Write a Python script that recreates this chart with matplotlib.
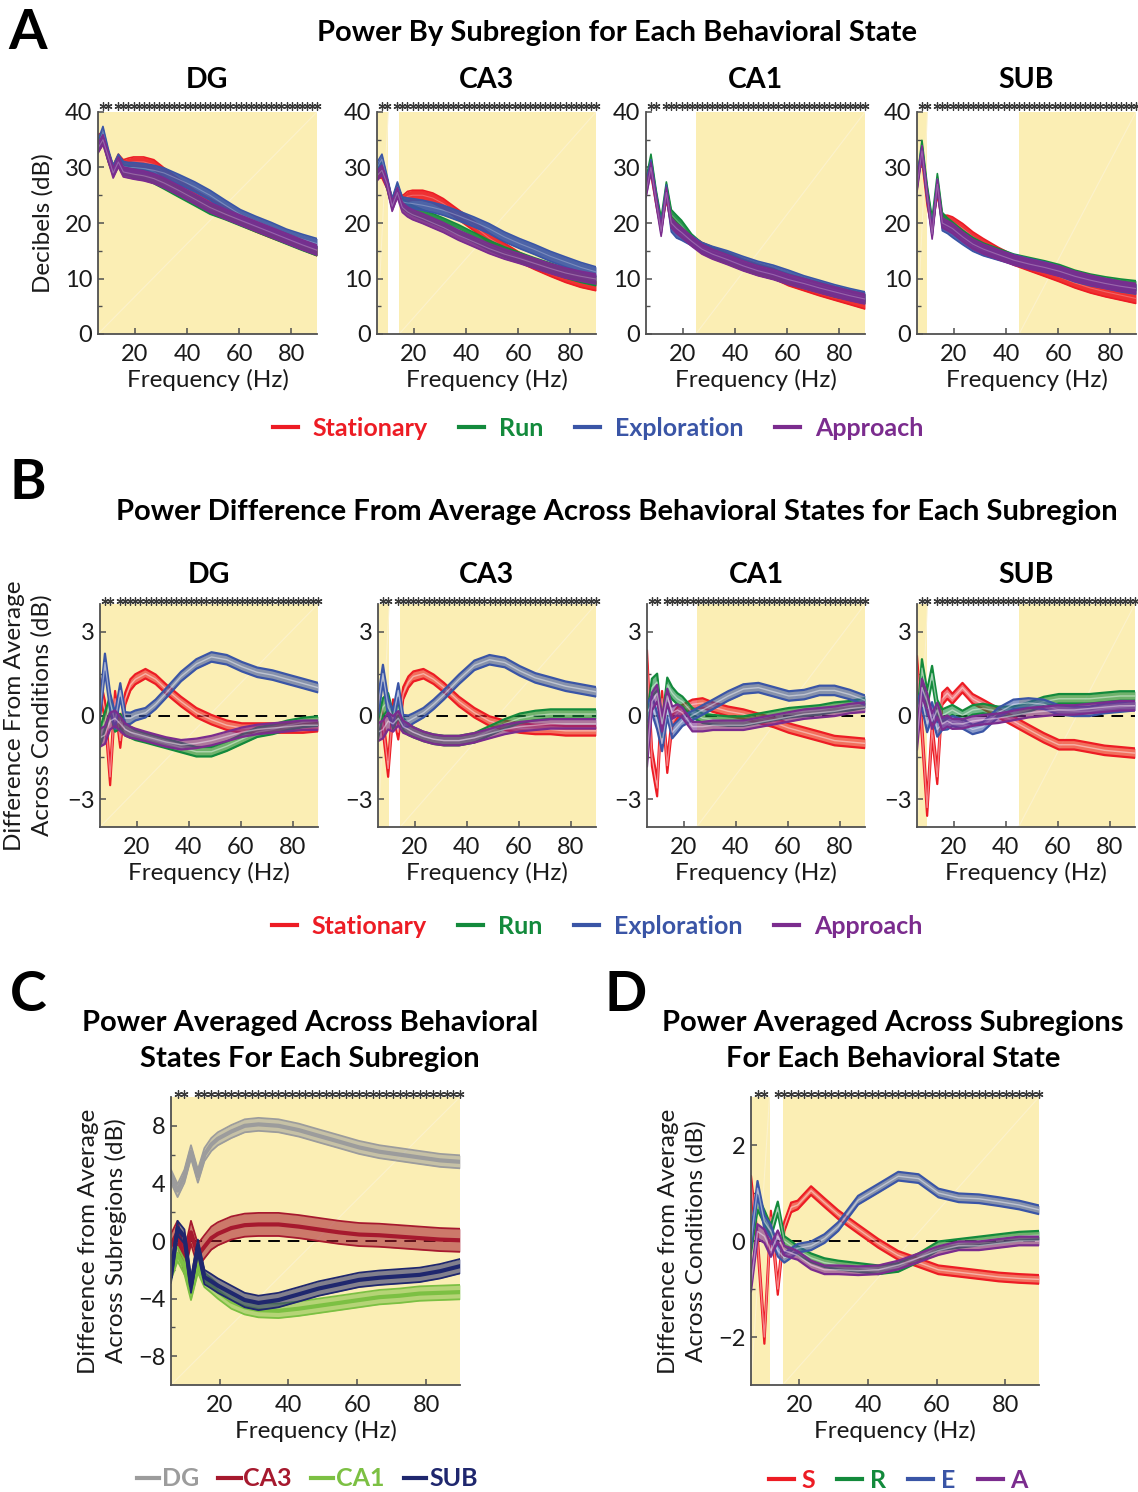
import numpy as np
import matplotlib
matplotlib.use('Agg')
import matplotlib.pyplot as plt
import matplotlib.transforms as mtransforms
from matplotlib.lines import Line2D

plt.rcParams['font.family'] = ['Lato', 'DejaVu Sans']

W, H = 1138, 1492

# frequency knots (Hz)
freq = [5.9, 7.8, 9.8, 11.7, 13.7, 15.6, 17.6, 19.5, 23.4, 27.3, 31.3,
        37.1, 43.0, 48.8, 54.7, 60.5, 66.4, 72.3, 78.1, 84.0, 89.8]

states = ['Stationary', 'Run', 'Exploration', 'Approach']
states_short = ['S', 'R', 'E', 'A']
regions = ['DG', 'CA3', 'CA1', 'SUB']

# significant frequency bins (bin width 1.953 Hz)
BIN_HZ = 1.953
star_bins = [4, 5] + list(range(7, 47))

# yellow shaded (significant) ranges, Hz
sig_ranges = {
    'DG': [(5.9, 89.8)],
    'CA3': [(5.9, 10.2), (14.4, 89.8)],
    'CA1': [(25.0, 89.8)],
    'SUB': [(5.9, 9.9), (45.0, 89.8)],
}
sig_c = [(5.9, 89.8)]
sig_d = [(5.9, 11.3), (15.1, 89.8)]

# ---- A: power (dB), order S, R, E, A
pow_dg = [
    [35, 35.5, 32, 29.5, 31.5, 30.5, 30.8, 31, 31, 30.5, 29, 27, 25, 23.5, 22, 20.5, 19.3, 18.2, 17.2, 16.1, 15],
    [34, 35.5, 32, 29.5, 31, 29.5, 29.4, 29, 28.8, 28, 27, 25.5, 24, 22.5, 21.5, 20.4, 19.3, 18.2, 17.1, 16, 15],
    [34, 36.5, 32.5, 29.5, 31.5, 30.2, 30, 30, 29.8, 29.5, 29, 27.8, 26.5, 25, 23.2, 21.5, 20.3, 19.2, 18, 17.1, 16.3],
    [33.5, 35, 32, 29, 31, 29.2, 29, 28.8, 28.5, 28, 27.2, 25.8, 24.3, 22.8, 21.6, 20.5, 19.4, 18.3, 17.2, 16.1, 15.1],
]
pow_ca3 = [
    [29, 29, 27, 23.5, 25.5, 24, 24.8, 25, 25, 24.5, 23.5, 21.5, 19.5, 17.3, 15.5, 13.8, 12.5, 11.3, 10.2, 9.3, 8.7],
    [29.5, 30, 27, 23.5, 26, 23.5, 22.8, 22.3, 21.5, 20.8, 20, 18.8, 17.4, 16, 14.8, 13.8, 12.8, 11.9, 11, 10.2, 9.6],
    [30, 31.5, 27.5, 23.5, 26.5, 23.8, 23.6, 23.5, 23.2, 22.8, 22.3, 21.3, 20.2, 19, 17.5, 16.3, 15.2, 14, 13, 12, 11.2],
    [28.5, 29.5, 27, 23, 25.5, 22.8, 22, 21.5, 20.8, 20, 19.2, 17.8, 16.6, 15.4, 14.4, 13.6, 12.7, 11.8, 11, 10.4, 9.9],
]
pow_ca1 = [
    [27.5, 29.5, 24, 19.5, 25, 20.5, 19.3, 18.3, 16.8, 15.6, 14.8, 13.8, 12.6, 11.7, 10.9, 9.6, 8.7, 7.8, 7, 6.2, 5.4],
    [27, 31.5, 25, 20, 26.5, 21.5, 20.5, 19.6, 17.1, 15.5, 14.6, 13.6, 12.4, 11.5, 10.8, 9.9, 9.1, 8.4, 7.6, 7, 6.4],
    [26.5, 30.5, 24.5, 19, 26, 19.3, 18.2, 17.8, 16.8, 15.6, 14.9, 14.1, 13.1, 12.2, 11.5, 10.6, 9.6, 8.8, 8.0, 7.3, 6.7],
    [25.5, 30, 24, 18.5, 25.5, 20, 19, 18.3, 16.7, 15.3, 14.4, 13.4, 12.3, 11.4, 10.7, 9.8, 9.1, 8.3, 7.6, 6.9, 6.3],
]
pow_sub = [
    [28.5, 32, 24, 19.5, 26, 20.5, 20.5, 20.2, 19, 17.5, 16.3, 14.7, 13.3, 12.3, 11.3, 10.3, 9.2, 8.3, 7.6, 7, 6.4],
    [27, 34, 26, 20, 28, 21, 20, 19.3, 17.8, 16.5, 15.5, 14.5, 13.5, 12.9, 12.3, 11.6, 10.6, 9.9, 9.4, 9.0, 8.7],
    [27.5, 33, 25, 18.5, 27, 19.5, 19, 18.3, 17, 15.8, 15, 14.2, 13.4, 12.7, 12.1, 11.3, 10.3, 9.6, 9.1, 8.5, 8.1],
    [26.5, 33, 25, 18, 27, 20, 19.5, 19, 17.5, 16.2, 15.3, 14.3, 13.3, 12.6, 12.0, 11.3, 10.4, 9.7, 9.1, 8.6, 8.2],
]
sem_pow = 0.9

# ---- B: difference from average across states (dB), order S, R, E, A
diff_dg = [
    [1.0, 0.2, -2.2, 0.6, -0.9, 0.6, 1.1, 1.3, 1.5, 1.3, 0.95, 0.5, 0.1, -0.15, -0.35, -0.45, -0.45, -0.45, -0.45, -0.45, -0.4],
    [-0.8, -0.2, 0.4, -0.3, -0.2, -0.5, -0.6, -0.7, -0.8, -0.9, -1.0, -1.15, -1.3, -1.3, -1.1, -0.85, -0.6, -0.5, -0.35, -0.25, -0.2],
    [0.2, 1.9, 0.5, -0.2, 0.9, -0.1, -0.1, 0.0, 0.1, 0.4, 0.8, 1.4, 1.85, 2.1, 2.0, 1.75, 1.55, 1.45, 1.3, 1.15, 1.0],
    [-0.8, -0.7, -0.2, -0.1, -0.3, -0.5, -0.6, -0.65, -0.75, -0.85, -0.95, -1.05, -1.0, -0.9, -0.75, -0.6, -0.5, -0.45, -0.4, -0.35, -0.35],
]
diff_ca3 = [
    [0.5, -0.3, -1.9, 0.3, -0.6, 0.8, 1.2, 1.4, 1.5, 1.3, 1.0, 0.5, 0.1, -0.2, -0.35, -0.45, -0.5, -0.5, -0.55, -0.55, -0.55],
    [-0.5, 0.3, 0.5, -0.2, 0.2, -0.3, -0.5, -0.6, -0.75, -0.85, -0.9, -0.9, -0.8, -0.55, -0.3, -0.1, 0.0, 0.05, 0.05, 0.05, 0.05],
    [0.3, 1.5, 0.3, -0.1, 0.9, -0.2, -0.2, -0.1, 0.1, 0.4, 0.75, 1.3, 1.8, 2.0, 1.9, 1.6, 1.35, 1.2, 1.05, 0.95, 0.85],
    [-0.6, -0.5, -0.2, -0.3, -0.1, -0.4, -0.5, -0.6, -0.75, -0.85, -0.9, -0.9, -0.8, -0.65, -0.5, -0.4, -0.35, -0.3, -0.3, -0.3, -0.3],
]
diff_ca1 = [
    [2.0, -1.5, -2.6, 0.6, -1.8, -0.2, 0.1, 0.2, 0.4, 0.45, 0.3, 0.15, 0.05, -0.1, -0.25, -0.45, -0.6, -0.75, -0.9, -0.95, -1.0],
    [-0.3, 1.0, 1.2, -0.5, 1.1, 0.8, 0.6, 0.5, 0.1, -0.1, -0.15, -0.2, -0.2, -0.1, 0.0, 0.1, 0.15, 0.2, 0.3, 0.35, 0.45],
    [0.1, 0.4, -0.2, -1.0, 0.2, -0.6, -0.4, -0.2, 0.0, 0.2, 0.4, 0.7, 0.95, 1.0, 0.85, 0.7, 0.75, 0.9, 0.9, 0.75, 0.55],
    [-1.5, 0.5, 0.8, -0.3, 0.7, 0.1, 0.2, 0.1, -0.4, -0.4, -0.35, -0.35, -0.35, -0.25, -0.15, -0.05, 0.05, 0.1, 0.15, 0.25, 0.3],
]
diff_sub = [
    [1.8, -0.5, -3.3, -0.5, -2.2, 0.6, 0.8, 0.6, 1.0, 0.6, 0.4, 0.1, -0.2, -0.5, -0.8, -1.05, -1.05, -1.15, -1.25, -1.3, -1.35],
    [-0.5, 1.7, 0.6, 1.5, 0.3, 0.0, 0.1, 0.2, 0.0, 0.2, 0.25, 0.15, 0.15, 0.3, 0.5, 0.6, 0.6, 0.6, 0.65, 0.7, 0.7],
    [0.2, 0.6, -0.3, 0.2, -0.5, -0.3, -0.3, -0.2, -0.3, -0.5, -0.4, 0.1, 0.4, 0.45, 0.4, 0.2, 0.15, 0.15, 0.25, 0.3, 0.35],
    [-0.9, 1.0, 0.5, -0.2, 0.2, -0.3, -0.2, -0.3, -0.3, -0.2, -0.15, -0.1, 0.0, 0.1, 0.15, 0.2, 0.2, 0.25, 0.3, 0.35, 0.35],
]
sem_diff = [0.32, 0.32, 0.3, 0.28, 0.26, 0.22, 0.2, 0.18, 0.17, 0.17, 0.17, 0.17, 0.17,
            0.17, 0.17, 0.17, 0.17, 0.17, 0.17, 0.17, 0.17]

# ---- C: difference from average across subregions (dB), order DG, CA3, CA1, SUB
reg_dg = [4.5, 3.5, 4.5, 6.2, 4.5, 6.0, 6.7, 7.1, 7.6, 8.0, 8.1, 8.0, 7.7, 7.3, 6.9, 6.5, 6.2, 6.0, 5.8, 5.6, 5.5]
reg_ca3 = [-0.3, 0.6, -1.5, 0.6, -1.0, -0.4, 0.2, 0.5, 0.9, 1.1, 1.15, 1.15, 1.0, 0.8, 0.6, 0.45, 0.4, 0.3, 0.2, 0.1, 0.05]
reg_ca1 = [-2.2, -0.9, -1.8, -3.6, -1.7, -2.7, -3.1, -3.5, -4.2, -4.6, -4.8, -4.85, -4.7, -4.5, -4.3, -4.1, -3.9, -3.8, -3.65, -3.6, -3.55]
reg_sub = [-2.4, 0.9, 0.3, -3.1, -0.4, -2.5, -2.8, -3.1, -3.6, -4.1, -4.3, -4.1, -3.7, -3.3, -3.0, -2.7, -2.55, -2.45, -2.35, -2.1, -1.75]
sem_reg = [0.45, 0.8, 0.5, 0.5]

# ---- D: difference from average across conditions, averaged over subregions
avg_s = [1.2, 0.0, -2.0, 0.5, -1.0, 0.3, 0.7, 0.75, 1.05, 0.8, 0.55, 0.25, -0.05, -0.3, -0.45, -0.6, -0.65, -0.7, -0.75, -0.78, -0.8]
avg_r = [-0.1, 0.8, 0.5, 0.2, 0.7, 0.0, -0.1, -0.2, -0.35, -0.45, -0.5, -0.55, -0.6, -0.55, -0.35, -0.1, -0.05, 0.0, 0.05, 0.1, 0.12]
avg_e = [0.0, 1.1, 0.4, 0.2, -0.2, -0.35, -0.25, -0.15, -0.1, 0.05, 0.3, 0.85, 1.1, 1.35, 1.3, 1.0, 0.9, 0.88, 0.82, 0.75, 0.65]
avg_a = [-0.9, 0.2, 0.1, -0.2, 0.1, -0.2, -0.25, -0.3, -0.5, -0.6, -0.6, -0.62, -0.6, -0.5, -0.35, -0.2, -0.1, -0.1, -0.05, 0.0, 0.0]
sem_avg = [0.15, 0.15, 0.14, 0.13, 0.12, 0.1, 0.1, 0.09, 0.09, 0.09, 0.09, 0.09, 0.09,
           0.09, 0.09, 0.09, 0.09, 0.09, 0.09, 0.09, 0.09]

state_colors = ['#ED1C24', '#138A3C', '#3A55A6', '#7B2C8E']
region_colors = ['#9C9C9C', '#A6192E', '#7CC043', '#1F276E']
YELLOW = '#FBEEB4'
AXC = '#505050'
TXT = '#1a1a1a'

f = np.array(freq)
star_hz = np.array(star_bins) * BIN_HZ

fig = plt.figure(figsize=(W / 100, H / 100), dpi=100)


def px_axes(left, top, right, bottom):
    return fig.add_axes([left / W, 1 - bottom / H, (right - left) / W, (bottom - top) / H])


def style(ax, ylim, yticks, yminor):
    ax.set_xlim(5.9, 89.8)
    ax.set_ylim(*ylim)
    ax.set_xticks([20, 40, 60, 80])
    ax.set_yticks(yticks)
    ax.set_yticks(yminor, minor=True)
    for s in ['top', 'right']:
        ax.spines[s].set_visible(False)
    for s in ['left', 'bottom']:
        ax.spines[s].set_color(AXC)
        ax.spines[s].set_linewidth(1.3)
    ax.tick_params(direction='in', length=4, width=1.1, color=AXC, labelsize=17,
                   labelcolor=TXT, pad=4)
    ax.tick_params(axis='x', pad=7)
    ax.tick_params(which='minor', direction='in', length=3, width=1.0, color=AXC)
    ax.set_xlabel('Frequency (Hz)', fontsize=17.5, color=TXT, labelpad=3)


def shade(ax, ranges, ylim):
    for lo, hi in ranges:
        ax.axvspan(lo, hi, color=YELLOW, lw=0, zorder=0)
        ax.plot([lo, hi], ylim, color='#FCF2CC', lw=0.8, zorder=0.5)


def stars(ax, dy=5):
    trans = mtransforms.blended_transform_factory(ax.transData, ax.transAxes)
    trans = mtransforms.offset_copy(trans, fig=fig, x=0, y=dy, units='dots')
    ax.plot(star_hz, np.ones(len(star_hz)), ls='none', marker=(6, 2, 0), ms=5.8,
            mew=0.9, color='#3a3a3a', transform=trans, clip_on=False, zorder=5)


def band(ax, m, sem, color, mode):
    m = np.asarray(m, dtype=float)
    sem = np.asarray(sem, dtype=float)
    lo, hi = m - sem, m + sem
    if mode == 'A':
        ax.fill_between(f, lo, hi, color=color, alpha=0.9, lw=0, zorder=2)
        ax.plot(f, lo, color=color, lw=1.2, zorder=2)
        ax.plot(f, hi, color=color, lw=1.2, zorder=2)
        ax.plot(f, m, color='white', alpha=0.25, lw=0.8, zorder=2)
    elif mode == 'C':
        ax.fill_between(f, lo, hi, color=color, alpha=0.55, lw=0, zorder=2)
        ax.plot(f, lo, color=color, lw=1.3, zorder=2)
        ax.plot(f, hi, color=color, lw=1.3, zorder=2)
        ax.plot(f, m, color=color, lw=3.0, zorder=2)
    else:
        ax.fill_between(f, lo, hi, color=color, alpha=0.6, lw=0, zorder=2)
        ax.plot(f, lo, color=color, lw=1.6, zorder=2)
        ax.plot(f, hi, color=color, lw=1.6, zorder=2)
        ax.plot(f, m, color='white', alpha=0.45, lw=1.0, zorder=2)


def zero_line(ax):
    ax.axhline(0, color='black', lw=1.4, ls=(0, (6, 4)), zorder=1)


bold = dict(fontweight='bold', color='black')
leg_kw = dict(loc='center', ncol=4, frameon=False, labelcolor='linecolor',
              prop={'weight': 'bold', 'size': 18})

# ---------------- Panel A
fig.text(28 / W, 1 - 33 / H, 'A', fontsize=40, ha='center', va='center', **bold)
fig.text(617 / W, 1 - 33 / H, 'Power By Subregion for Each Behavioral State',
         fontsize=21, ha='center', va='center', **bold)
a_left = [98, 377, 646, 917]
for i, (reg, data) in enumerate(zip(regions, [pow_dg, pow_ca3, pow_ca1, pow_sub])):
    ax = px_axes(a_left[i], 112, a_left[i] + 219, 334)
    ylim = (0, 40)
    style(ax, ylim, [0, 10, 20, 30, 40], [5, 15, 25, 35])
    shade(ax, sig_ranges[reg], ylim)
    for m, c in zip(data, state_colors):
        band(ax, m, sem_pow, c, 'A')
    stars(ax, 6)
    fig.text((a_left[i] + 109) / W, 1 - 80 / H, reg, fontsize=20.5, ha='center', va='center', **bold)
    if i == 0:
        ax.set_ylabel('Decibels (dB)', fontsize=17.5, color=TXT, labelpad=8)

handles = [Line2D([], [], color=c, lw=3) for c in state_colors]
fig.legend(handles, states, bbox_to_anchor=(598 / W, 1 - 428 / H),
           handlelength=1.0, handletextpad=0.6, columnspacing=1.25, **leg_kw)

# ---------------- Panel B
fig.text(28 / W, 1 - 483 / H, 'B', fontsize=40, ha='center', va='center', **bold)
fig.text(617 / W, 1 - 512 / H,
         'Power Difference From Average Across Behavioral States for Each Subregion',
         fontsize=21, ha='center', va='center', **bold)
b_left = [100, 378, 647, 917]
for i, (reg, data) in enumerate(zip(regions, [diff_dg, diff_ca3, diff_ca1, diff_sub])):
    ax = px_axes(b_left[i], 604, b_left[i] + 218, 827)
    ylim = (-4, 4)
    style(ax, ylim, [-3, 0, 3], [-1.5, 1.5])
    shade(ax, sig_ranges[reg], ylim)
    zero_line(ax)
    for m, c in zip(data, state_colors):
        band(ax, m, sem_diff, c, 'B')
    stars(ax, 3)
    fig.text((b_left[i] + 109) / W, 1 - 575 / H, reg, fontsize=20.5, ha='center', va='center', **bold)
    if i == 0:
        ax.set_ylabel('Difference From Average\nAcross Conditions (dB)', fontsize=17.5,
                      color=TXT, labelpad=10, linespacing=1.35)

fig.legend(handles, states, bbox_to_anchor=(597 / W, 1 - 926 / H),
           handlelength=1.0, handletextpad=0.6, columnspacing=1.25, **leg_kw)

# ---------------- Panel C
fig.text(28 / W, 1 - 995 / H, 'C', fontsize=40, ha='center', va='center', **bold)
fig.text(310 / W, 1 - 1041 / H, 'Power Averaged Across Behavioral\nStates For Each Subregion',
         fontsize=21, ha='center', va='center', linespacing=1.45, **bold)
ax = px_axes(171, 1097, 460, 1385)
ylim = (-10, 10)
style(ax, ylim, [-8, -4, 0, 4, 8], [-6, -2, 2, 6])
shade(ax, sig_c, ylim)
zero_line(ax)
for m, s, c in zip([reg_dg, reg_ca3, reg_ca1, reg_sub], sem_reg, region_colors):
    band(ax, m, s, c, 'C')
stars(ax, 3)
ax.set_ylabel('Difference from Average\nAcross Subregions (dB)', fontsize=17.5,
              color=TXT, labelpad=8, linespacing=1.35)
rhandles = [Line2D([], [], color=c, lw=3) for c in region_colors]
fig.legend(rhandles, regions, bbox_to_anchor=(307 / W, 1 - 1479 / H),
           handlelength=0.9, handletextpad=0.12, columnspacing=0.75, **leg_kw)

# ---------------- Panel D
fig.text(626 / W, 1 - 995 / H, 'D', fontsize=40, ha='center', va='center', **bold)
fig.text(893 / W, 1 - 1041 / H, 'Power Averaged Across Subregions\nFor Each Behavioral State',
         fontsize=21, ha='center', va='center', linespacing=1.45, **bold)
ax = px_axes(751, 1097, 1039, 1385)
ylim = (-3, 3)
style(ax, ylim, [-2, 0, 2], [-1, 1])
shade(ax, sig_d, ylim)
zero_line(ax)
for m, c in zip([avg_s, avg_r, avg_e, avg_a], state_colors):
    band(ax, m, sem_avg, c, 'D')
stars(ax, 3)
ax.set_ylabel('Difference from Average\nAcross Conditions (dB)', fontsize=17.5,
              color=TXT, labelpad=8, linespacing=1.35)
fig.legend(handles, states_short, bbox_to_anchor=(898 / W, 1 - 1480 / H),
           handlelength=1.0, handletextpad=0.3, columnspacing=0.9, **leg_kw)

fig.savefig('out.png', dpi=100)
